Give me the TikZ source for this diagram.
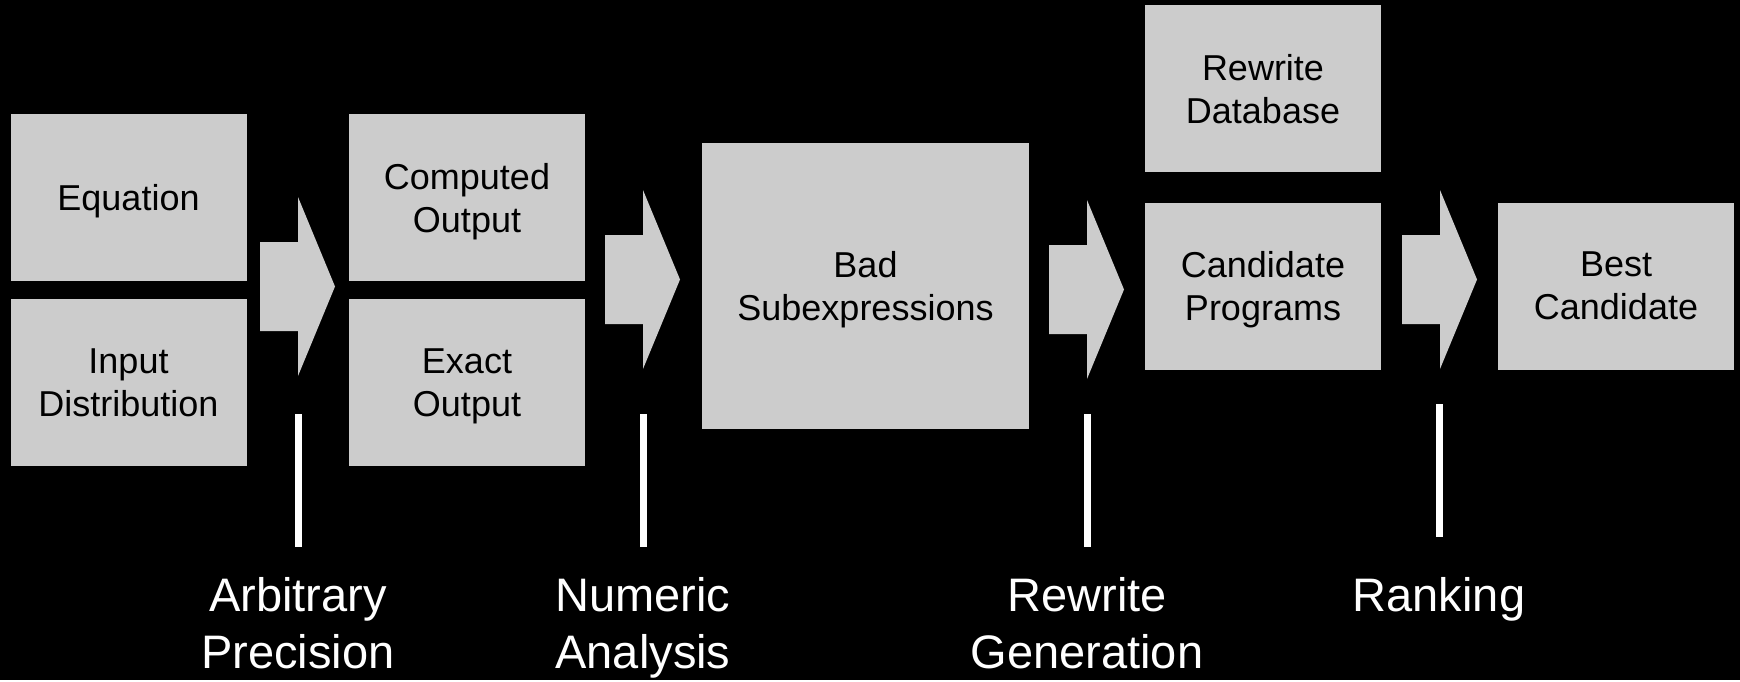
\documentclass[tikz,border=0pt]{standalone}
\usepackage{fontspec}
\setmainfont{Liberation Sans}
\definecolor{boxgray}{HTML}{CCCCCC}

\begin{document}
\begin{tikzpicture}[x=1pt,y=-1pt,
  box/.style={fill=boxgray, minimum width=236, minimum height=167, inner sep=0pt,
    text depth=0pt, align=center, font=\fontsize{36}{43}\selectfont},
  stage/.style={text=white, align=center, anchor=base, font=\fontsize{47}{57}\selectfont},
  tick/.style={draw=white, line width=7pt}]
  % Bakgrunn
  \fill[black] (0,0) rectangle (1740,680);

  % Bokser
  \node[box] (eq) at (128.5,197.5) {Equation};
  \node[box] (inp) at (128.5,382.5) {Input\\Distribution};
  \node[box] (comp) at (467,197.5) {Computed\\Output};
  \node[box] (exact) at (467,382.5) {Exact\\Output};
  \node[box, minimum width=327, minimum height=286] (bad) at (865.5,286) {Bad\\Subexpressions};
  \node[box] (db) at (1263,88.5) {Rewrite\\Database};
  \node[box] (cand) at (1263,286) {Candidate\\Programs};
  \node[box] (best) at (1616,286) {Best\\Candidate};

  % Blokkpiler
  \foreach \x/\y in {260/286.5,605/279.5,1049/289.5,1402/279.5} {
    \fill[boxgray] (\x,\y-44.5) -- ++(38,0) -- ++(0,-45) -- (\x+75,\y)
      -- (\x+38,\y+89.5) -- ++(0,-45) -- (\x,\y+44.5) -- cycle;
  }

  % Faser (grunnlinje for siste tekstlinje)
  \foreach \x/\y/\b/\navn/\tekst in {298/414/668/arb/{Arbitrary\\Precision},
      643/414/668/num/{Numeric\\Analysis}, 1087/414/668/gen/{Rewrite\\Generation},
      1439/404/611/rank/{Ranking}} {
    \draw[tick] (\x,\y) -- (\x,\y+133);
    \node[stage] (\navn) at (\x,\b) {\tekst};
  }
\end{tikzpicture}
\end{document}
